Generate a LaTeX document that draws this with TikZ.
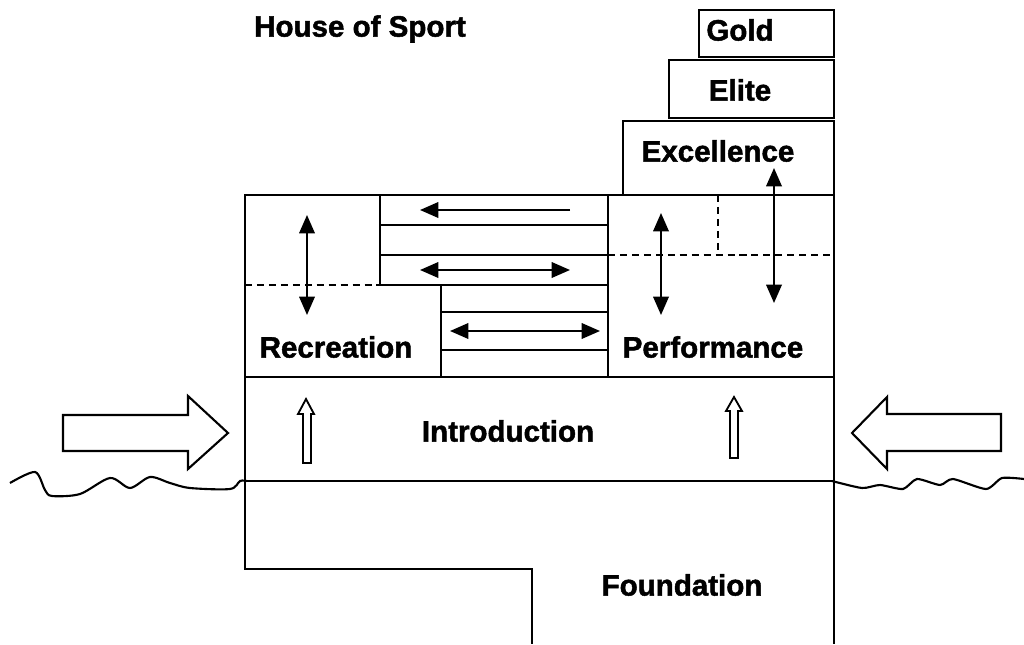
\documentclass[tikz,border=0pt]{standalone}
\usepackage{fontspec}
\setmainfont{Liberation Sans}
\newfontfamily\heavyfont{Liberation Sans}[UprightFont=*, BoldFont=* Bold, BoldFeatures={FakeBold=1.6}]
\usetikzlibrary{positioning, arrows.meta}

\tikzset{
  wall/.style={line width=1.6pt},
  inner/.style={line width=1.3pt},
  split/.style={line width=1.2pt, dash pattern=on 5pt off 3.5pt},
  txt/.style={font=\heavyfont\bfseries\fontsize{21}{25}\selectfont, inner sep=0pt},
  move/.style={line width=1.4pt, {Triangle[length=13pt,width=11pt]}-{Triangle[length=13pt,width=11pt]}},
  push/.style={line width=1.4pt, -{Triangle[length=13pt,width=11pt]}},
  hollow/.style={line width=1.5pt, line join=miter}
}

\begin{document}
\begin{tikzpicture}[x=0.025cm,y=-0.025cm]
\useasboundingbox (0,0) rectangle (1024,644);

\draw[wall] (245,195) rectangle (834,377);
\draw[wall] (245,377) rectangle (834,481);
\draw[wall] (245,481) -- (245,569) -- (532,569) -- (532,644);
\draw[wall] (834,481) -- (834,644);
\draw[wall] (623,121) rectangle (834,195);
\draw[wall] (669,60) rectangle (834,118);
\draw[wall] (699,10) rectangle (834,57);

\draw[inner] (608,195) -- (608,377);
\draw[inner] (380,195) -- (380,285);
\draw[inner] (441,285) -- (441,377);
\foreach \y in {225,255,285} \draw[inner] (380,\y) -- (608,\y);
\foreach \y in {312,350} \draw[inner] (441,\y) -- (608,\y);
\draw[split] (245,285) -- (380,285);
\draw[split] (608,255) -- (834,255);
\draw[split] (718,195) -- (718,255);

\node[txt] (title) at (360,29) {House of Sport};
\node[txt] (gold) at (740,30) {Gold};
\node[txt] (elite) at (740,90) {Elite};
\node[txt] (excel) at (718,151) {Excellence};
\node[txt] (recr) at (336,347) {Recreation};
\node[txt] (perf) at (713,347) {Performance};
\node[txt] (intro) at (508,431) {Introduction};
\node[txt] (found) at (682,585) {Foundation};

\coordinate (recr up) at (307,215);
\coordinate (recr down) at (307,315);
\coordinate (perf up) at (661,213);
\coordinate (perf down) at (661,315);
\coordinate (excel up) at (774,168);
\coordinate (excel down) at (774,303);
\coordinate (lane1 r) at (570,210);
\coordinate (lane1 l) at (420,210);
\coordinate (lane3 l) at (420,270);
\coordinate (lane3 r) at (570,270);
\coordinate (lane5 l) at (450,331);
\coordinate (lane5 r) at (600,331);

\draw[move] (recr up) -- (recr down);
\draw[move] (perf up) -- (perf down);
\draw[move] (excel up) -- (excel down);
\draw[push] (lane1 r) -- (lane1 l);
\draw[move] (lane3 l) -- (lane3 r);
\draw[move] (lane5 l) -- (lane5 r);

\draw[hollow] (63,415) -- (188,415) -- (188,396) -- (228,433) -- (188,469) -- (188,451) -- (63,451) -- cycle;
\draw[hollow] (1001,414) -- (887,414) -- (887,397) -- (852,433) -- (887,469) -- (887,451) -- (1001,451) -- cycle;
\draw[hollow, line width=1.3pt] (303,463) -- (303,414) -- (298,414) -- (306,399) -- (314,414) -- (311,414) -- (311,463) -- cycle;
\draw[hollow, line width=1.3pt] (730,458) -- (730,411) -- (726,411) -- (734,397) -- (742,411) -- (738,411) -- (738,458) -- cycle;

\draw[line width=1.5pt] plot[smooth, tension=0.5] coordinates {(10,483) (35,472) (45,490) (52,496) (80,494) (110,478) (130,488) (150,477) (170,483) (190,488) (230,489) (240,481) (247,481)};
\draw[line width=1.5pt] plot[smooth, tension=0.4] coordinates {(832,481) (862,488) (880,485) (903,489) (917,479) (940,485) (953,479) (986,489) (1002,478) (1024,479)};
\end{tikzpicture}
\end{document}
